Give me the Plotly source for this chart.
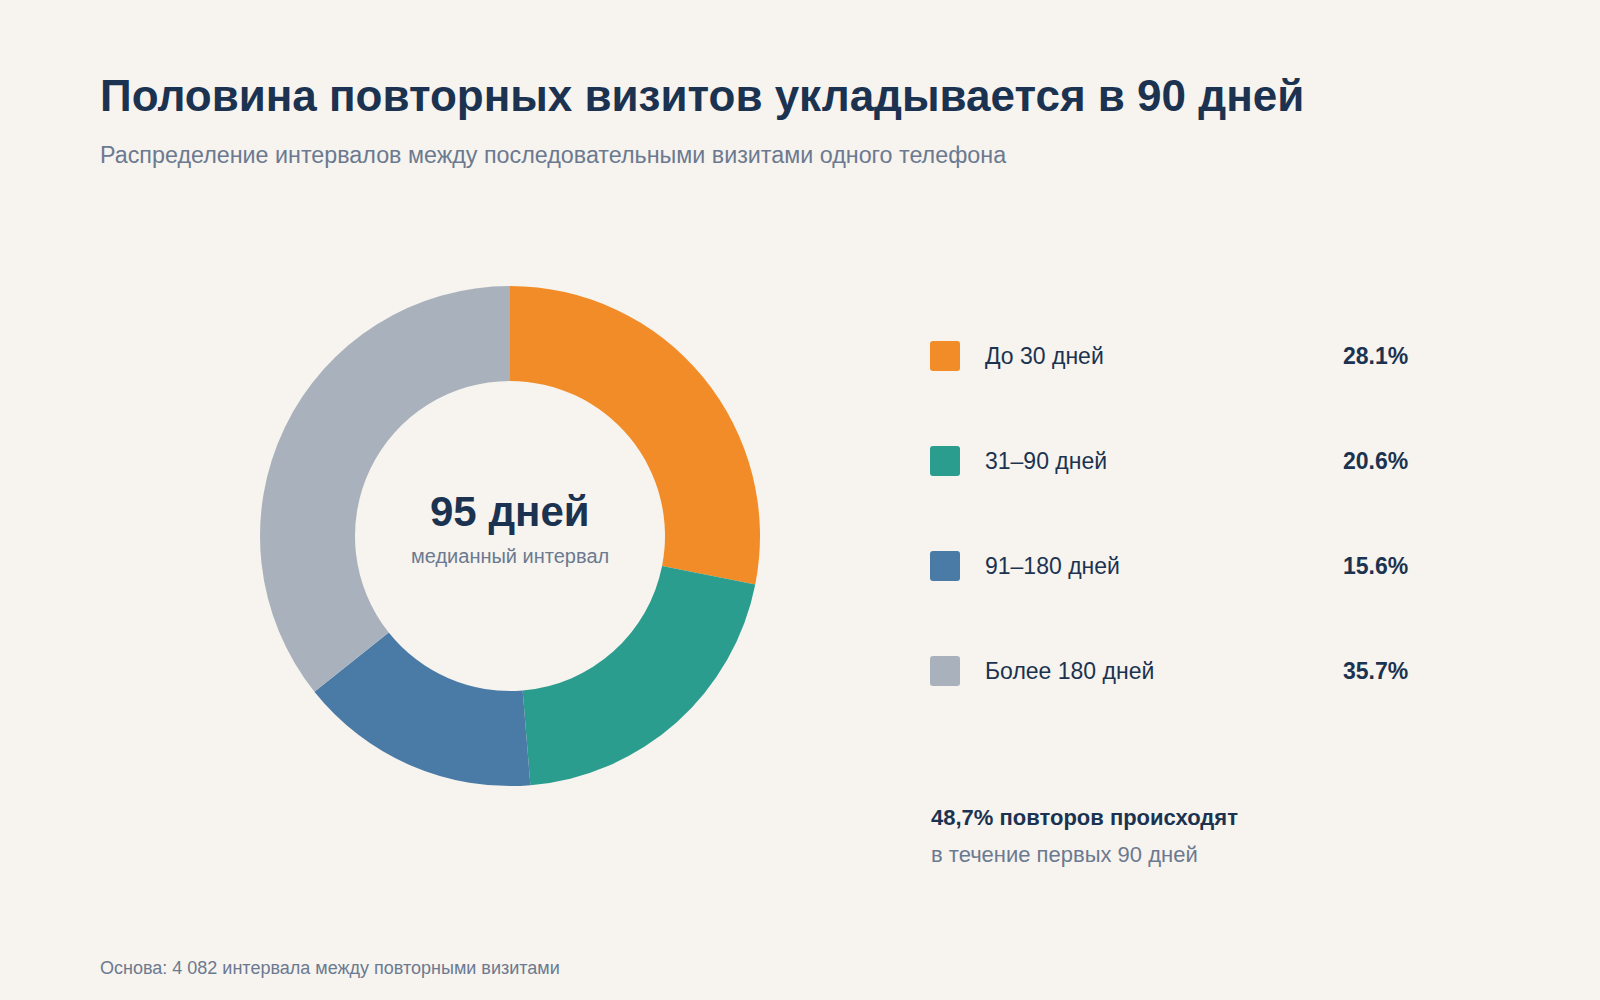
import plotly.graph_objects as go

# data
categories = ['До 30 дней', '31–90 дней', '91–180 дней', 'Более 180 дней']
shares = [28.1, 20.6, 15.6, 35.7]
colors = ['#f28c28', '#2a9d8f', '#4a7ba7', '#a9b2bc']
median_label = '95 дней'
within_90 = '48,7%'
base_count = '4 082'

W, H = 1600, 1000
BG = '#f7f3ee'
NAVY = '#1b3350'
SLATE = '#6b7a90'
FONT = 'Arial'


def px(x):
    return x / W


def py(y):
    return 1 - y / H


fig = go.Figure()

# donut
cx, cy, r = 510, 536, 250
fig.add_trace(go.Pie(
    labels=categories,
    values=shares,
    hole=0.62,
    sort=False,
    direction='clockwise',
    rotation=0,
    marker=dict(colors=colors, line=dict(width=0)),
    textinfo='none',
    hoverinfo='label+percent',
    showlegend=False,
    domain=dict(x=[px(cx - r), px(cx + r)], y=[py(cy + r), py(cy - r)]),
))

annotations = []
shapes = []


def note(x, y, text, size, color, bold=False, xanchor='left'):
    if bold:
        text = '<b>' + text + '</b>'
    annotations.append(dict(
        x=px(x), y=py(y), xref='paper', yref='paper', text=text,
        showarrow=False, xanchor=xanchor, yanchor='middle',
        font=dict(family=FONT, size=size, color=color)))


# title block
note(98, 96, 'Половина повторных визитов укладывается в 90 дней', 44, NAVY, bold=True)
note(98, 155, 'Распределение интервалов между последовательными визитами одного телефона', 23.3, SLATE)

# center of donut
note(cx, 511, median_label, 42, NAVY, bold=True, xanchor='center')
note(cx, 556, 'медианный интервал', 20, SLATE, xanchor='center')

# custom legend
row_y = [356, 461, 566, 671]
for lab, val, col, y in zip(categories, shares, colors, row_y):
    x0, x1 = 930, 960
    y0, y1 = y - 15, y + 15
    rr = 3
    path = (f'M {px(x0 + rr)},{py(y0)} L {px(x1 - rr)},{py(y0)} '
            f'Q {px(x1)},{py(y0)} {px(x1)},{py(y0 + rr)} '
            f'L {px(x1)},{py(y1 - rr)} Q {px(x1)},{py(y1)} {px(x1 - rr)},{py(y1)} '
            f'L {px(x0 + rr)},{py(y1)} Q {px(x0)},{py(y1)} {px(x0)},{py(y1 - rr)} '
            f'L {px(x0)},{py(y0 + rr)} Q {px(x0)},{py(y0)} {px(x0 + rr)},{py(y0)} Z')
    shapes.append(dict(type='path', xref='paper', yref='paper', path=path,
                       fillcolor=col, line=dict(width=0)))
    note(983, y, lab, 23, NAVY)
    note(1410, y, f'{val:.1f}%', 23, NAVY, bold=True, xanchor='right')

# callout
note(929, 817, f'{within_90} повторов происходят', 22, NAVY, bold=True)
note(929, 854, 'в течение первых 90 дней', 22, SLATE)

# source
note(98, 968, f'Основа: {base_count} интервала между повторными визитами', 18, SLATE)

fig.update_layout(
    width=W, height=H,
    margin=dict(l=0, r=0, t=0, b=0),
    paper_bgcolor=BG,
    plot_bgcolor=BG,
    annotations=annotations,
    shapes=shapes,
    font=dict(family=FONT),
)

fig.write_html('out.html', config={'displayModeBar': False},
               post_script="document.body.style.margin='0';")
